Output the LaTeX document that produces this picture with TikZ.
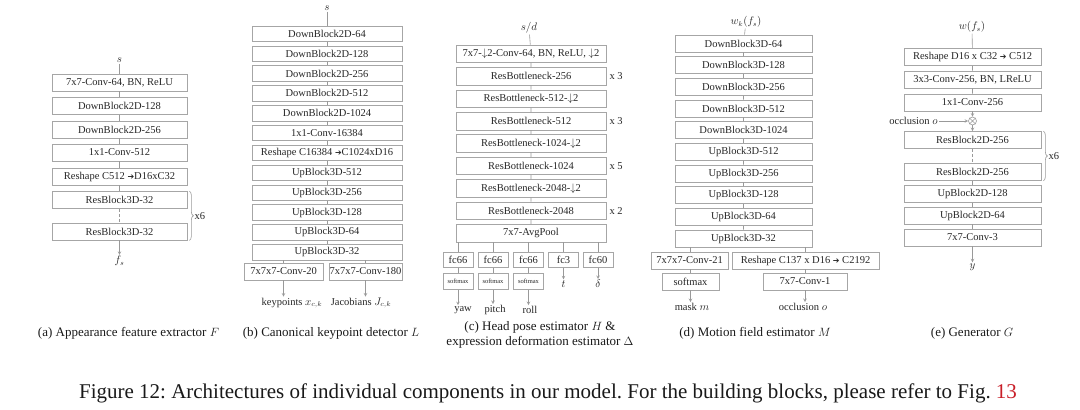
\documentclass[tikz,border=0pt]{standalone}
\usepackage{fontspec}
\setmainfont{Liberation Serif}
\newfontfamily\symfont{DejaVu Sans}
\usepackage{amsmath}
\usetikzlibrary{arrows, positioning, decorations.pathreplacing}

\newcommand{\rarr}{{\symfont\fontsize{8}{9}\selectfont ➔}}
\definecolor{linkred}{RGB}{200,30,40}
\frenchspacing

\tikzset{
  blk/.style={draw=gray!70, line width=0.7pt, inner sep=0pt, minimum height=17pt,
    font=\fontsize{10.5}{12}\selectfont, text=black!85},
  smbox/.style={blk, minimum height=16pt, minimum width=30pt, font=\fontsize{6.5}{7}\selectfont},
  lnk/.style={draw=gray!80, line width=0.6pt},
  arr/.style={lnk, ->, >=stealth},
  lbl/.style={font=\fontsize{10.5}{12}\selectfont, inner sep=1pt, text=black!85},
  repl/.style={font=\fontsize{10.5}{12}\selectfont, inner sep=1pt, anchor=west, text=black!85},
  subcap/.style={font=\fontsize{13}{15.5}\selectfont, align=center, text=black!90},
  brc/.style={lnk, decorate, decoration={brace, amplitude=4pt}},
}

\begin{document}
\begin{tikzpicture}[x=1pt, y=-1pt]
  \useasboundingbox (0,0) rectangle (1080,410);

  % (a) Appearance feature extractor
  \node[lbl] (as) at (119.5,60) {$s$};
  \node[blk, minimum width=135pt] (a1) at (119.5,82.5) {7x7-Conv-64, BN, ReLU};
  \node[blk, minimum width=135pt] (a2) at (119.5,106) {DownBlock2D-128};
  \node[blk, minimum width=135pt] (a3) at (119.5,129.5) {DownBlock2D-256};
  \node[blk, minimum width=135pt] (a4) at (119.5,152.5) {1x1-Conv-512};
  \node[blk, minimum width=135pt] (a5) at (119.5,176.5) {Reshape C512 \rarr D16xC32};
  \node[blk, minimum width=135pt] (a6) at (119.5,200) {ResBlock3D-32};
  \node[blk, minimum width=135pt] (a7) at (119.5,231.5) {ResBlock3D-32};
  \node[lbl] (af) at (119.5,261) {$f_s$};
  \draw[lnk] (as) -- (a1) (a1) -- (a2) (a2) -- (a3) (a3) -- (a4) (a4) -- (a5) (a5) -- (a6);
  \draw[lnk, densely dashed] (a6) -- (a7);
  \draw[arr] (a7) -- (af);
  \draw[brc] ([xshift=2pt]a6.north east) -- ([xshift=2pt]a7.south east)
    node[midway, repl, xshift=4pt] {x6};
  \node[subcap] (acap) at (128.5,333) {(a) Appearance feature extractor $F$};

  % (b) Canonical keypoint detector
  \node[lbl] (bs) at (327,8) {$s$};
  \node[blk, minimum width=150pt, minimum height=15.5pt] (b1) at (327,33.75) {DownBlock2D-64};
  \node[blk, minimum width=150pt, minimum height=15.5pt] (b2) at (327,53.6) {DownBlock2D-128};
  \node[blk, minimum width=150pt, minimum height=15.5pt] (b3) at (327,73.5) {DownBlock2D-256};
  \node[blk, minimum width=150pt, minimum height=15.5pt] (b4) at (327,93.3) {DownBlock2D-512};
  \node[blk, minimum width=150pt, minimum height=15.5pt] (b5) at (327,113.2) {DownBlock2D-1024};
  \node[blk, minimum width=150pt, minimum height=15.5pt] (b6) at (327,133) {1x1-Conv-16384};
  \node[blk, minimum width=150pt, minimum height=15.5pt] (b7) at (327,152.9) {Reshape C16384 \rarr C1024xD16};
  \node[blk, minimum width=150pt, minimum height=15.5pt] (b8) at (327,172.8) {UpBlock3D-512};
  \node[blk, minimum width=150pt, minimum height=15.5pt] (b9) at (327,192.6) {UpBlock3D-256};
  \node[blk, minimum width=150pt, minimum height=15.5pt] (b10) at (327,212.5) {UpBlock3D-128};
  \node[blk, minimum width=150pt, minimum height=15.5pt] (b11) at (327,232.4) {UpBlock3D-64};
  \node[blk, minimum width=150pt, minimum height=15.5pt] (b12) at (327,252.2) {UpBlock3D-32};
  \node[blk, minimum width=79pt] (bkp) at (283.5,271.5) {7x7x7-Conv-20};
  \node[blk, minimum width=73pt] (bjc) at (365.5,271.5) {7x7x7-Conv-180};
  \node[lbl] (bkpo) at (292,303) {keypoints $x_{c,k}$};
  \node[lbl] (bjco) at (361,303) {Jacobians $J_{c,k}$};
  \draw[lnk] (bs) -- (b1) (b1) -- (b2) (b2) -- (b3) (b3) -- (b4) (b4) -- (b5) (b5) -- (b6)
    (b6) -- (b7) (b7) -- (b8) (b8) -- (b9) (b9) -- (b10) (b10) -- (b11) (b11) -- (b12);
  \draw[lnk] (b12.south -| bkp) -- (bkp) (b12.south -| bjc) -- (bjc);
  \draw[arr] (bkp) -- (bkp |- bkpo.north);
  \draw[arr] (bjc) -- (bjc |- bjco.north);
  \node[subcap] (bcap) at (331,333) {(b) Canonical keypoint detector $L$};

  % (c) Head pose and expression deformation estimator
  \node[lbl] (cs) at (529,28) {$s/d$};
  \node[blk, minimum width=150pt, minimum height=17.5pt] (c1) at (531,53.75) {7x7-$\downarrow$2-Conv-64, BN, ReLU, $\downarrow$2};
  \node[blk, minimum width=150pt, minimum height=17.5pt] (c2) at (531,76.2) {ResBottleneck-256};
  \node[blk, minimum width=150pt, minimum height=17.5pt] (c3) at (531,98.6) {ResBottleneck-512-$\downarrow$2};
  \node[blk, minimum width=150pt, minimum height=17.5pt] (c4) at (531,121.1) {ResBottleneck-512};
  \node[blk, minimum width=150pt, minimum height=17.5pt] (c5) at (531,143.5) {ResBottleneck-1024-$\downarrow$2};
  \node[blk, minimum width=150pt, minimum height=17.5pt] (c6) at (531,166) {ResBottleneck-1024};
  \node[blk, minimum width=150pt, minimum height=17.5pt] (c7) at (531,188.4) {ResBottleneck-2048-$\downarrow$2};
  \node[blk, minimum width=150pt, minimum height=17.5pt] (c8) at (531,210.8) {ResBottleneck-2048};
  \node[blk, minimum width=150pt, minimum height=17.5pt] (c9) at (531,233.3) {7x7-AvgPool};
  \node[repl] at ([xshift=2pt]c2.east) {x 3};
  \node[repl] at ([xshift=2pt]c4.east) {x 3};
  \node[repl] at ([xshift=2pt]c6.east) {x 5};
  \node[repl] at ([xshift=2pt]c8.east) {x 2};
  \node[blk, minimum width=30pt, minimum height=15pt] (cf1) at (458,260) {fc66};
  \node[blk, minimum width=30pt, minimum height=15pt] (cf2) at (493,260) {fc66};
  \node[blk, minimum width=30pt, minimum height=15pt] (cf3) at (528.5,260) {fc66};
  \node[blk, minimum width=30pt, minimum height=15pt] (cf4) at (563.5,260) {fc3};
  \node[blk, minimum width=30pt, minimum height=15pt] (cf5) at (598,260) {fc60};
  \node[smbox] (cm1) at (458,281.5) {softmax};
  \node[smbox] (cm2) at (493,281.5) {softmax};
  \node[smbox] (cm3) at (528.5,281.5) {softmax};
  \node[lbl] (cyaw) at (463,310) {yaw};
  \node[lbl] (cpitch) at (495,310) {pitch};
  \node[lbl] (croll) at (530,310) {roll};
  \node[lbl] (ct) at (563.5,284) {$t$};
  \node[lbl] (cd) at (598,284) {$\delta$};
  \draw[lnk] (cs) -- (c1) (c1) -- (c2) (c2) -- (c3) (c3) -- (c4) (c4) -- (c5) (c5) -- (c6)
    (c6) -- (c7) (c7) -- (c8) (c8) -- (c9);
  \draw[lnk] (c9.south -| cf1) -- (cf1) (c9.south -| cf2) -- (cf2) (c9.south -| cf3) -- (cf3)
    (c9.south -| cf4) -- (cf4) (c9.south -| cf5) -- (cf5);
  \draw[lnk] (cf1) -- (cm1) (cf2) -- (cm2) (cf3) -- (cm3);
  \draw[arr] (cm1) -- (cm1 |- cyaw.north);
  \draw[arr] (cm2) -- (cm2 |- cpitch.north);
  \draw[arr] (cm3) -- (cm3 |- croll.north);
  \draw[arr] (cf4) -- (ct);
  \draw[arr] (cf5) -- (cd);
  \node[subcap] (ccap) at (540,335) {(c) Head pose estimator $H$ \&\\expression deformation estimator $\Delta$};

  % (d) Motion field estimator
  \node[lbl] (dw) at (746,22) {$w_k(f_s)$};
  \node[blk, minimum width=137pt] (d1) at (743.5,43.5) {DownBlock3D-64};
  \node[blk, minimum width=137pt] (d2) at (743.5,65.2) {DownBlock3D-128};
  \node[blk, minimum width=137pt] (d3) at (743.5,86.8) {DownBlock3D-256};
  \node[blk, minimum width=137pt] (d4) at (743.5,108.5) {DownBlock3D-512};
  \node[blk, minimum width=137pt] (d5) at (743.5,130.2) {DownBlock3D-1024};
  \node[blk, minimum width=137pt] (d6) at (743.5,151.8) {UpBlock3D-512};
  \node[blk, minimum width=137pt] (d7) at (743.5,173.5) {UpBlock3D-256};
  \node[blk, minimum width=137pt] (d8) at (743.5,195.2) {UpBlock3D-128};
  \node[blk, minimum width=137pt] (d9) at (743.5,216.9) {UpBlock3D-64};
  \node[blk, minimum width=137pt] (d10) at (743.5,238.5) {UpBlock3D-32};
  \node[blk, minimum width=77pt] (dcv) at (689.5,260.5) {7x7x7-Conv-21};
  \node[blk, minimum width=147pt] (drs) at (805.5,260.5) {Reshape C137 x D16 \rarr{} C2192};
  \node[blk, minimum width=57pt] (dsm) at (690.5,281.5) {softmax};
  \node[blk, minimum width=84pt] (doc) at (805,281.5) {7x7-Conv-1};
  \node[lbl] (dmask) at (692,307) {mask $m$};
  \node[lbl] (docc) at (803,307) {occlusion $o$};
  \draw[lnk] (dw) -- (d1) (d1) -- (d2) (d2) -- (d3) (d3) -- (d4) (d4) -- (d5) (d5) -- (d6)
    (d6) -- (d7) (d7) -- (d8) (d8) -- (d9) (d9) -- (d10);
  \draw[lnk] (d10.south -| dsm) -- (dsm |- dcv.north) (d10.south -| doc) -- (doc |- drs.north);
  \draw[lnk] (dsm |- dcv.south) -- (dsm) (doc |- drs.south) -- (doc);
  \draw[arr] (dsm) -- (dsm |- dmask.north);
  \draw[arr] (doc) -- (doc |- docc.north);
  \node[subcap] (dcap) at (755,333) {(d) Motion field estimator $M$};

  % (e) Generator
  \node[lbl] (ew) at (972,27) {$w(f_s)$};
  \node[blk, minimum width=137pt] (e1) at (972.5,57) {Reshape D16 x C32 \rarr{} C512};
  \node[blk, minimum width=137pt] (e2) at (972.5,79.5) {3x3-Conv-256, BN, LReLU};
  \node[blk, minimum width=137pt] (e3) at (972.5,102.5) {1x1-Conv-256};
  \node[draw=gray!80, line width=0.6pt, circle, inner sep=0pt, minimum size=8pt] (emul) at (972.5,121) {};
  \draw[gray!80, line width=0.5pt] (emul.45) -- (emul.225) (emul.135) -- (emul.315);
  \node[lbl] (eocc) at (913.5,121) {occlusion $o$};
  \node[blk, minimum width=137pt] (e4) at (972.5,140) {ResBlock2D-256};
  \node[blk, minimum width=137pt] (e5) at (972.5,172) {ResBlock2D-256};
  \node[blk, minimum width=137pt] (e6) at (972.5,194) {UpBlock2D-128};
  \node[blk, minimum width=137pt] (e7) at (972.5,215.5) {UpBlock2D-64};
  \node[blk, minimum width=137pt] (e8) at (972.5,237.5) {7x7-Conv-3};
  \node[lbl] (ey) at (972.5,267) {$y$};
  \draw[lnk] (ew) -- (e1) (e1) -- (e2) (e2) -- (e3);
  \draw[arr] (e3) -- (emul);
  \draw[arr] (eocc) -- (emul);
  \draw[arr] (emul) -- (e4);
  \draw[lnk, densely dashed] (e4) -- (e5);
  \draw[lnk] (e5) -- (e6) (e6) -- (e7) (e7) -- (e8);
  \draw[arr] (e8) -- (ey);
  \draw[brc] ([xshift=2pt]e4.north east) -- ([xshift=2pt]e5.south east)
    node[midway, repl, xshift=4pt] {x6};
  \node[subcap] (ecap) at (972,333) {(e) Generator $G$};

  % Figure caption
  \node[font=\fontsize{21}{24}\selectfont, text=black!90] (fig) at (548,393)
    {Figure 12: Architectures of individual components in our model. For the building blocks, please refer to Fig. \textcolor{linkred}{13}};
\end{tikzpicture}
\end{document}
